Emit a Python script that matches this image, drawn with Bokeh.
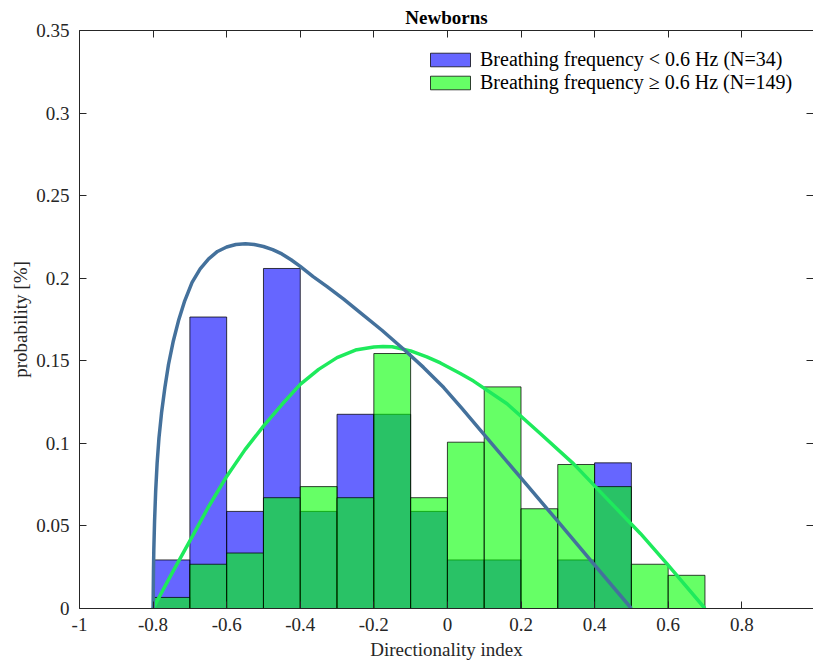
from bokeh.plotting import figure
from bokeh.models import LinearAxis, FixedTicker, Range1d, Legend, LegendItem
from bokeh.embed import file_html
from bokeh.resources import INLINE

# ---- data ----
bin_edges = [-0.8, -0.7, -0.6, -0.5, -0.4, -0.3, -0.2, -0.1, 0.0, 0.1, 0.2, 0.3, 0.4, 0.5, 0.6, 0.7]
low_freq_prob = [0.0294, 0.1765, 0.0588, 0.2059, 0.0588, 0.1176, 0.1176, 0.0588, 0.0294, 0.0294, 0.0, 0.0294, 0.0882]
high_freq_prob = [0.0067, 0.0268, 0.0336, 0.0671, 0.0738, 0.0671, 0.1544, 0.0671, 0.1007, 0.1342, 0.0604, 0.0872, 0.0738, 0.0268, 0.0201]

low_fit_x = [-0.800, -0.799, -0.798, -0.796, -0.793, -0.789, -0.784, -0.777, -0.768, -0.758, -0.745, -0.731,
             -0.714, -0.694, -0.672, -0.649, -0.625, -0.600, -0.575, -0.549, -0.525, -0.500, -0.475, -0.450,
             -0.425, -0.400, -0.365, -0.327, -0.282, -0.237, -0.178, -0.119, -0.065, -0.010, 0.040, 0.090,
             0.198, 0.298, 0.398, 0.500]
low_fit_y = [0.000, 0.0223, 0.0354, 0.0527, 0.0709, 0.0881, 0.1033, 0.1185, 0.1337, 0.1479, 0.1620, 0.1742,
             0.1863, 0.1975, 0.2056, 0.2117, 0.2162, 0.2189, 0.2204, 0.2208, 0.2204, 0.2192, 0.2173, 0.2147,
             0.2112, 0.2072, 0.2010, 0.1949, 0.1873, 0.1792, 0.1685, 0.1570, 0.1460, 0.1338, 0.1210, 0.1079,
             0.0795, 0.0533, 0.0268, 0.000]

high_fit_x = [-0.80, -0.75, -0.70, -0.65, -0.60, -0.55, -0.50, -0.45, -0.40, -0.35, -0.30, -0.25, -0.20, -0.175,
              -0.15, -0.10, -0.056, -0.019, 0.035, 0.071, 0.162, 0.253, 0.343, 0.434, 0.525, 0.597, 0.70]
high_fit_y = [0.000, 0.0208, 0.0410, 0.0613, 0.0800, 0.0962, 0.1104, 0.1235, 0.1357, 0.1448, 0.1519, 0.1565, 0.1583, 0.1587,
              0.1585, 0.1560, 0.1524, 0.1487, 0.1423, 0.1377, 0.1240, 0.1058, 0.0876, 0.0664, 0.0453, 0.0270, 0.000]

x_ticks = [-1, -0.8, -0.6, -0.4, -0.2, 0, 0.2, 0.4, 0.6, 0.8]
x_tick_labels = ["-1", "-0.8", "-0.6", "-0.4", "-0.2", "0", "0.2", "0.4", "0.6", "0.8"]
y_ticks = [0, 0.05, 0.1, 0.15, 0.2, 0.25, 0.3, 0.35]
y_tick_labels = ["0", "0.05", "0.1", "0.15", "0.2", "0.25", "0.3", "0.35"]

label_low = "Breathing frequency < 0.6 Hz (N=34)"
label_high = "Breathing frequency \u2265 0.6 Hz (N=149)"

FONT = "Liberation Serif"
AX = "#262626"

p = figure(width=813, height=664, output_backend="svg", toolbar_location=None,
           x_range=Range1d(-1, 0.995), y_range=Range1d(0, 0.35),
           min_border_left=79, min_border_right=0, min_border_top=30, min_border_bottom=56)
p.background_fill_color = "white"
p.border_fill_color = "white"
p.outline_line_color = None
p.xgrid.visible = False
p.ygrid.visible = False

p.title.text = "Newborns"
p.title.text_font = FONT
p.title.text_font_style = "bold"
p.title.text_font_size = "19px"
p.title.text_color = "black"
p.title.align = "center"
p.title.standoff = 5

def style_axis(ax, ticks, labels=None):
    ax.ticker = FixedTicker(ticks=ticks)
    ax.major_tick_in = 7
    ax.major_tick_out = 0
    ax.minor_tick_line_color = None
    ax.axis_line_color = AX
    ax.major_tick_line_color = AX
    ax.major_label_text_font = FONT
    ax.major_label_text_font_size = "19px"
    ax.major_label_text_color = AX
    ax.axis_label_text_font = FONT
    ax.axis_label_text_font_size = "19px"
    ax.axis_label_text_font_style = "normal"
    ax.axis_label_text_color = AX
    if labels is not None:
        ax.major_label_overrides = {float(t): l for t, l in zip(ticks, labels)}

style_axis(p.xaxis[0], x_ticks, x_tick_labels)
p.xaxis.axis_label = "Directionality index"
p.xaxis.major_label_standoff = 9
p.xaxis.axis_label_standoff = 5
style_axis(p.yaxis[0], y_ticks, y_tick_labels)
p.yaxis.axis_label = "probability [%]"
p.yaxis.major_label_standoff = 10
p.yaxis.axis_label_standoff = 2

top = LinearAxis()
style_axis(top, x_ticks)
top.major_label_text_font_size = "1px"
top.major_label_text_color = None
top.major_label_standoff = 0
p.add_layout(top, "above")

right = LinearAxis()
style_axis(right, y_ticks)
right.major_label_text_font_size = "1px"
right.major_label_text_color = None
right.major_label_standoff = 0
right.axis_line_color = None
p.add_layout(right, "right")

rb = p.quad(left=bin_edges[:len(low_freq_prob)], right=bin_edges[1:len(low_freq_prob) + 1],
            bottom=0, top=low_freq_prob, fill_color="#0000FF", fill_alpha=0.6,
            line_color="black", line_alpha=0.75, line_width=1)
rg = p.quad(left=bin_edges[:len(high_freq_prob)], right=bin_edges[1:len(high_freq_prob) + 1],
            bottom=0, top=high_freq_prob, fill_color="#00FF00", fill_alpha=0.6,
            line_color="black", line_alpha=0.75, line_width=1)

p.line(high_fit_x, high_fit_y, line_color="#1EEA5C", line_width=3.5, line_join="round")
p.line(low_fit_x, low_fit_y, line_color="#44719C", line_width=3.5, line_join="round")

legend = Legend(items=[LegendItem(label=label_low, renderers=[rb]),
                       LegendItem(label=label_high, renderers=[rg])],
                location=(346, 514), border_line_color=None, background_fill_alpha=0,
                label_text_font=FONT, label_text_font_size="20px", label_text_color="black",
                glyph_width=50, glyph_height=17, padding=0, margin=0, spacing=0,
                label_standoff=5, label_height=17)
p.add_layout(legend)

open("out.html", "w").write(file_html(p, INLINE))
